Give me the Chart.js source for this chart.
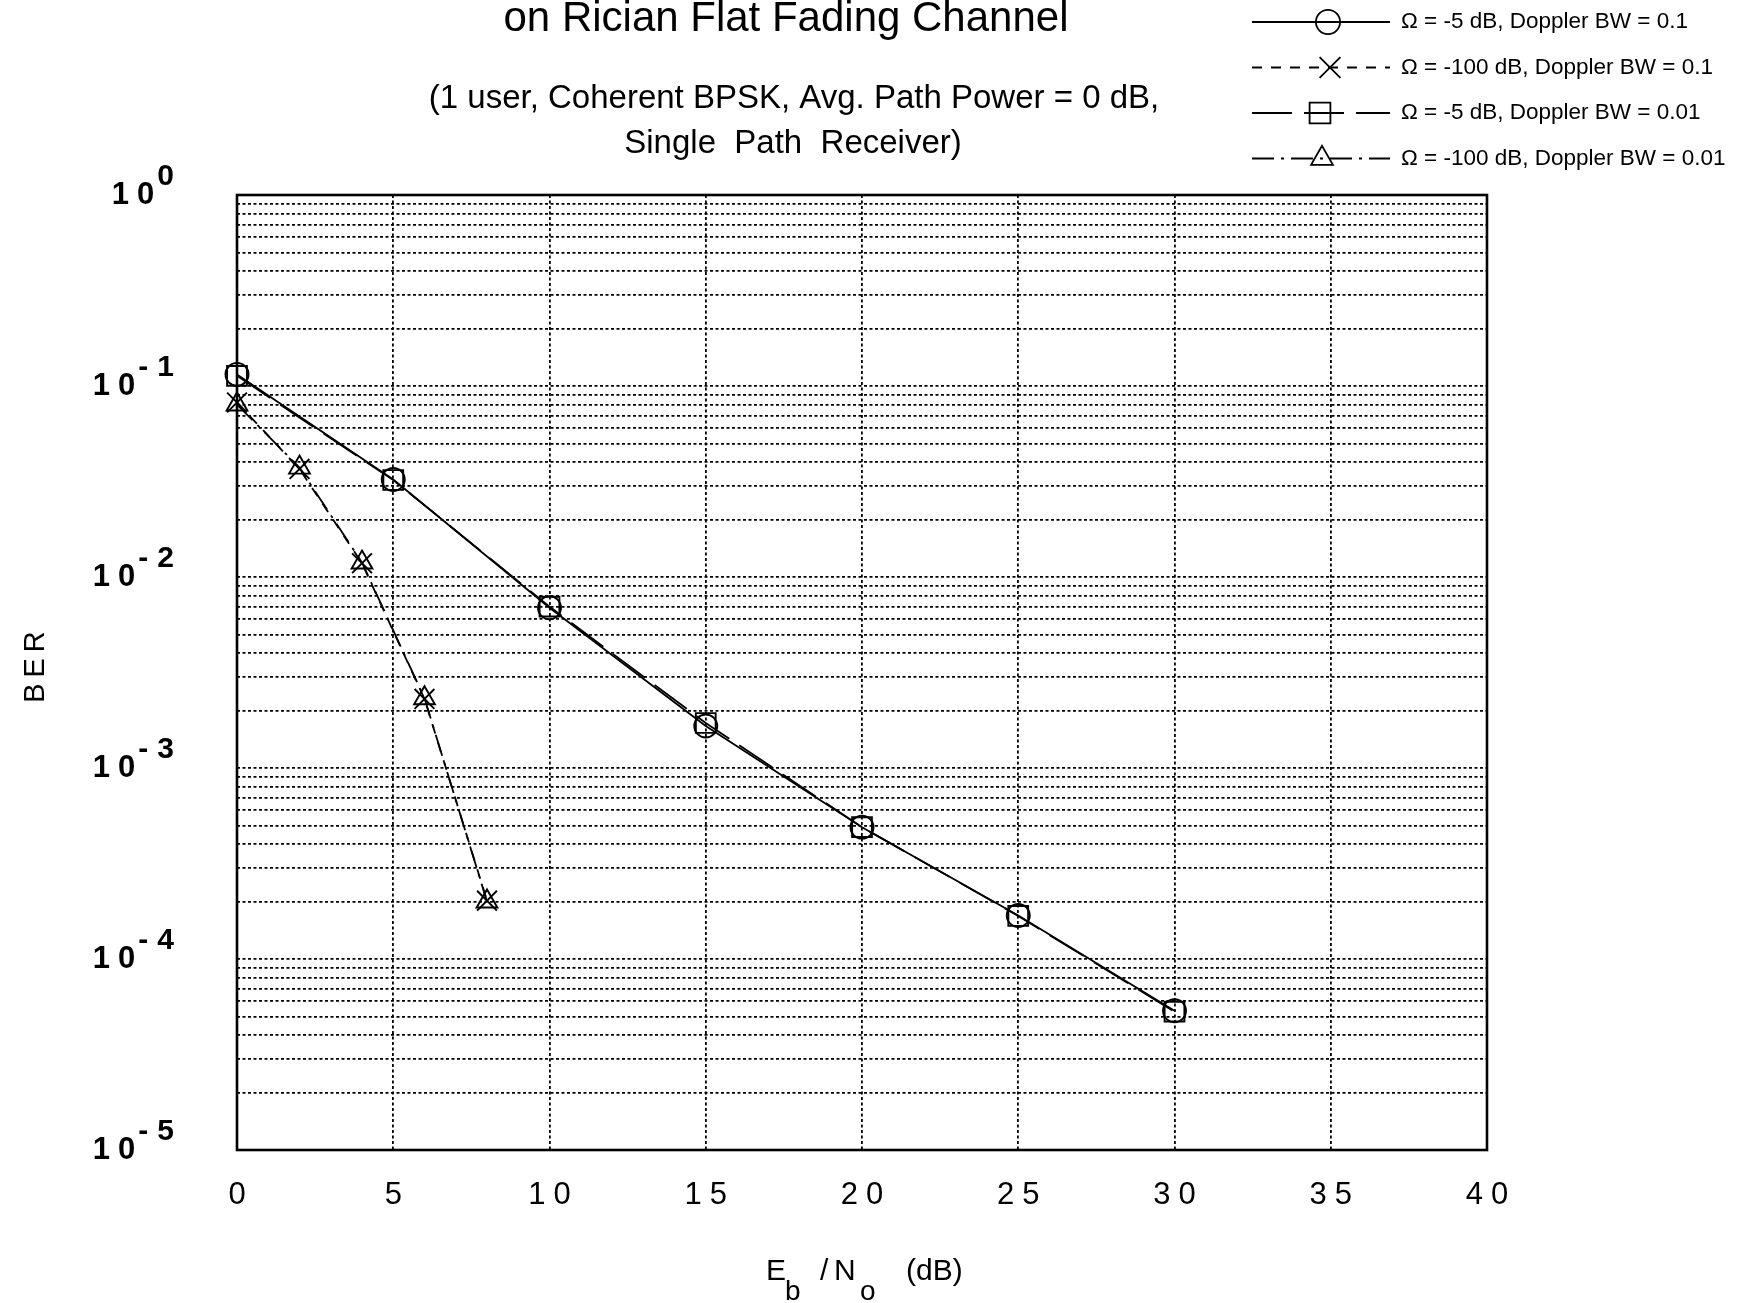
<!DOCTYPE html>
<html>
<head>
<meta charset="utf-8">
<script src="https://cdn.jsdelivr.net/npm/chart.js@4/dist/chart.umd.min.js"></script>
<style>
html,body{margin:0;padding:0;background:#fff;overflow:hidden}
canvas{display:block}
</style>
</head>
<body>
<canvas id="c" width="1744" height="1303"></canvas>
<script>
// ---------- data ----------
const titleText = 'on Rician Flat Fading Channel';
const subtitleLines = ['(1 user, Coherent BPSK, Avg. Path Power = 0 dB,', 'Single  Path  Receiver)'];
const xTickValues = [0, 5, 10, 15, 20, 25, 30, 35, 40];
const yDecadeExponents = [0, -1, -2, -3, -4, -5];
const xAxisTitle = ['E', 'b', '/', 'N', 'o', '(dB)'];
const yAxisTitle = 'BER';
const seriesLabels = [
  'Ω = -5 dB, Doppler BW = 0.1',
  'Ω = -100 dB, Doppler BW = 0.1',
  'Ω = -5 dB, Doppler BW = 0.01',
  'Ω = -100 dB, Doppler BW = 0.01'
];
const snrLong = [0, 5, 10, 15, 20, 25, 30];
const berCircle = [0.115, 0.0324, 0.0069, 0.00166, 0.00049, 0.000169, 0.0000536];
const berSquare = [0.113, 0.0322, 0.0070, 0.00172, 0.00049, 0.000168, 0.0000530];
const snrShort = [0, 2, 4, 6, 8];
const berCross = [0.082, 0.0368, 0.0118, 0.00230, 0.000202];
const berTriangle = [0.080, 0.0374, 0.0119, 0.00232, 0.000200];

// ---------- layout ----------
const W = 1744, H = 1303;
const PLOT_LEFT = 237, PLOT_RIGHT = 1487, PLOT_TOP = 195, PLOT_BOTTOM = 1150;
const FONT = '"Liberation Sans", Arial, Helvetica, sans-serif';

const toXY = (xs, ys) => xs.map((x, i) => ({x: x, y: ys[i]}));
const common = {
  borderColor: '#000', pointBorderColor: '#000', pointBackgroundColor: 'rgba(0,0,0,0)',
  borderWidth: 1.8, pointBorderWidth: 1.9, tension: 0, fill: false, clip: false
};
const datasets = [
  Object.assign({}, common, {label: seriesLabels[0], data: toXY(snrLong, berCircle), pointStyle: 'circle', pointRadius: 11.5, pointHoverRadius: 11.5, borderDash: []}),
  Object.assign({}, common, {label: seriesLabels[1], data: toXY(snrShort, berCross), pointStyle: 'crossRot', pointRadius: 14, pointHoverRadius: 14, borderDash: [10, 9]}),
  Object.assign({}, common, {label: seriesLabels[2], data: toXY(snrLong, berSquare), pointStyle: 'rect', pointRadius: 14, pointHoverRadius: 14, borderDash: [40, 12]}),
  Object.assign({}, common, {label: seriesLabels[3], data: toXY(snrShort, berTriangle), pointStyle: 'triangle', pointRadius: 12, pointHoverRadius: 12, borderDash: [22, 7, 3, 7]})
];

function drawMarker(ctx, style, r, x, y) {
  ctx.beginPath();
  if (style === 'circle') {
    ctx.arc(x, y, r, 0, Math.PI * 2);
  } else if (style === 'rect') {
    const s = r * Math.SQRT1_2;
    ctx.rect(x - s, y - s, 2 * s, 2 * s);
  } else if (style === 'triangle') {
    for (let k = 0; k < 3; k++) {
      const a = k * 2 * Math.PI / 3;
      const px = x + Math.sin(a) * r, py = y - Math.cos(a) * r;
      if (k === 0) ctx.moveTo(px, py); else ctx.lineTo(px, py);
    }
    ctx.closePath();
  } else if (style === 'crossRot') {
    const d = Math.cos(Math.PI / 4) * r;
    ctx.moveTo(x - d, y - d); ctx.lineTo(x + d, y + d);
    ctx.moveTo(x - d, y + d); ctx.lineTo(x + d, y - d);
  }
  ctx.stroke();
}

const framePlugin = {
  id: 'frame',
  beforeDatasetsDraw(chart) {
    const ctx = chart.ctx, a = chart.chartArea;
    ctx.save();
    ctx.strokeStyle = '#000';
    ctx.lineWidth = 2.6;
    ctx.setLineDash([]);
    ctx.strokeRect(a.left, a.top, a.right - a.left, a.bottom - a.top);
    ctx.restore();
  }
};

const textPlugin = {
  id: 'texts',
  afterDraw(chart) {
    const ctx = chart.ctx;
    const xs = chart.scales.x, ys = chart.scales.y;
    ctx.save();
    ctx.fillStyle = '#000';
    ctx.textBaseline = 'alphabetic';

    // title + subtitle
    ctx.textAlign = 'center';
    ctx.font = '42px ' + FONT;
    ctx.fillText(titleText, 786, 31);
    ctx.font = '33px ' + FONT;
    ctx.fillText(subtitleLines[0], 794, 108);
    ctx.fillText(subtitleLines[1], 793, 153);

    // y tick labels 10^k
    yDecadeExponents.forEach(e => {
      const py = ys.getPixelForValue(Math.pow(10, e));
      const sup = e === 0 ? '0' : '-' + (-e);
      ctx.textAlign = 'right';
      ctx.font = 'bold 30px ' + FONT;
      ctx.letterSpacing = '9px';
      const supW = ctx.measureText(sup).width;
      ctx.fillText(sup, 183, py - 10);
      ctx.font = 'bold 31px ' + FONT;
      ctx.letterSpacing = '8px';
      ctx.fillText('10', 183 - supW + 5, py + 9);
    });

    // x tick labels
    ctx.textAlign = 'center';
    ctx.font = '31px ' + FONT;
    ctx.letterSpacing = '8px';
    xTickValues.forEach(v => {
      const px = xs.getPixelForValue(v);
      ctx.fillText(String(v), px + 4, 1204);
    });

    // x axis title: E_b / N_o (dB)
    ctx.letterSpacing = '0px';
    ctx.textAlign = 'left';
    ctx.font = '30px ' + FONT;
    ctx.fillText(xAxisTitle[0], 766, 1280);
    ctx.font = '28px ' + FONT;
    ctx.fillText(xAxisTitle[1], 785, 1300);
    ctx.font = '30px ' + FONT;
    ctx.fillText(xAxisTitle[2], 820, 1280);
    ctx.fillText(xAxisTitle[3], 834, 1280);
    ctx.font = '28px ' + FONT;
    ctx.fillText(xAxisTitle[4], 860, 1300);
    ctx.font = '30px ' + FONT;
    ctx.fillText(xAxisTitle[5], 906, 1280);

    // y axis title
    ctx.save();
    ctx.translate(44, 667);
    ctx.rotate(-Math.PI / 2);
    ctx.textAlign = 'center';
    ctx.font = '29px ' + FONT;
    ctx.letterSpacing = '6px';
    ctx.fillText(yAxisTitle, 3, 0);
    ctx.restore();

    // legend
    const rows = [22, 67.5, 113, 158.5];
    const markerX = [1328, 1330, 1320, 1322];
    chart.data.datasets.forEach((ds, i) => {
      const y = rows[i];
      ctx.strokeStyle = '#000';
      ctx.lineWidth = 1.8;
      ctx.setLineDash(ds.borderDash || []);
      ctx.beginPath();
      ctx.moveTo(1252, y);
      ctx.lineTo(1390, y);
      ctx.stroke();
      ctx.setLineDash([]);
      drawMarker(ctx, ds.pointStyle, ds.pointRadius * 1.05, markerX[i], y);
      ctx.fillStyle = '#000';
      ctx.font = '22.5px ' + FONT;
      ctx.letterSpacing = '0px';
      ctx.textAlign = 'left';
      ctx.textBaseline = 'middle';
      ctx.fillText(ds.label, 1401, y);
      ctx.textBaseline = 'alphabetic';
    });
    ctx.restore();
  }
};

const gridOpts = {color: '#000', lineWidth: 1.8, drawTicks: false};

new Chart(document.getElementById('c'), {
  type: 'line',
  data: {datasets: datasets},
  options: {
    responsive: false,
    animation: false,
    events: [],
    layout: {padding: {top: PLOT_TOP, right: W - PLOT_RIGHT, left: 0, bottom: 0}},
    plugins: {legend: {display: false}, title: {display: false}, tooltip: {enabled: false}},
    scales: {
      x: {
        type: 'linear', min: 0, max: 40,
        afterBuildTicks: s => { s.ticks = xTickValues.map(v => ({value: v})); },
        afterFit: s => { s.height = H - PLOT_BOTTOM; },
        ticks: {display: false},
        grid: gridOpts,
        border: {display: false, dash: [3, 2.5]}
      },
      y: {
        type: 'logarithmic', min: 1e-5, max: 1,
        afterBuildTicks: s => {
          const t = [];
          yDecadeExponents.slice().reverse().forEach(e => {
            if (e === 0) { t.push({value: 1}); return; }
            for (let m = 1; m < 10; m++) t.push({value: m * Math.pow(10, e)});
          });
          s.ticks = t;
        },
        afterFit: s => { s.width = PLOT_LEFT; },
        ticks: {display: false},
        grid: gridOpts,
        border: {display: false, dash: [3, 2.5]}
      }
    }
  },
  plugins: [framePlugin, textPlugin]
});
</script>
</body>
</html>
